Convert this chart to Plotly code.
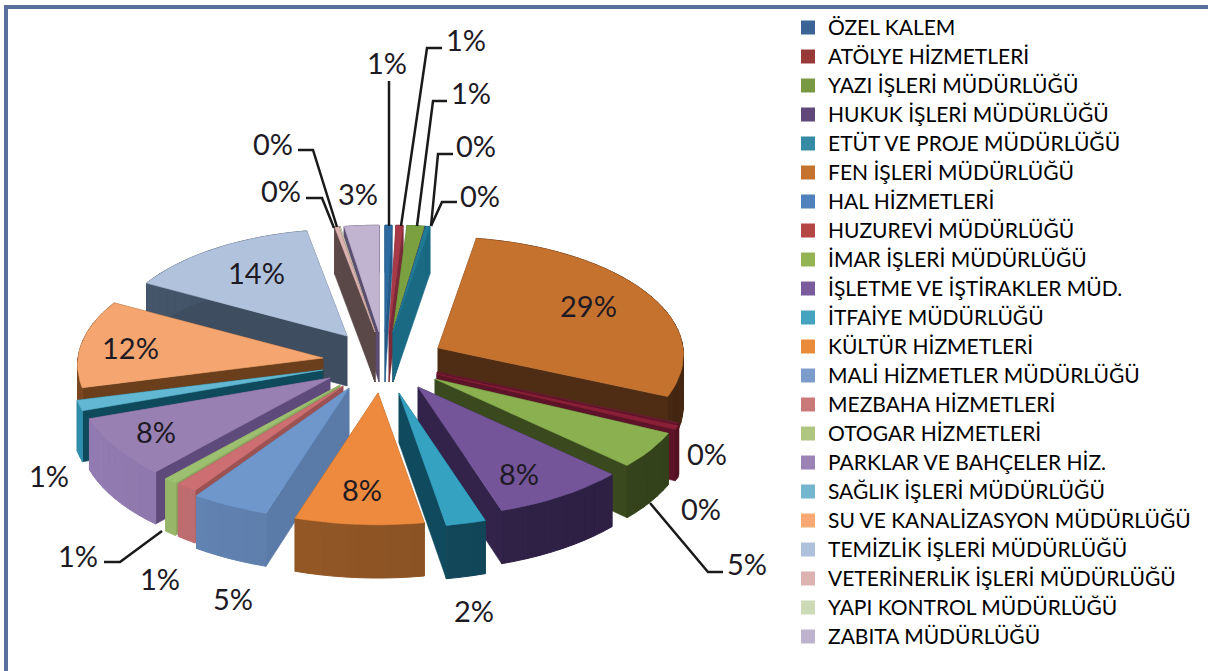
import math
import plotly.graph_objects as go

# ---- data ----
categories = ["ÖZEL KALEM", "ATÖLYE HİZMETLERİ", "YAZI İŞLERİ MÜDÜRLÜĞÜ", "HUKUK İŞLERİ MÜDÜRLÜĞÜ",
              "ETÜT VE PROJE MÜDÜRLÜĞÜ", "FEN İŞLERİ MÜDÜRLÜĞÜ", "HAL HİZMETLERİ", "HUZUREVİ MÜDÜRLÜĞÜ",
              "İMAR İŞLERİ MÜDÜRLÜĞÜ", "İŞLETME VE İŞTİRAKLER MÜD.", "İTFAİYE MÜDÜRLÜĞÜ", "KÜLTÜR HİZMETLERİ",
              "MALİ HİZMETLER MÜDÜRLÜĞÜ", "MEZBAHA HİZMETLERİ", "OTOGAR HİZMETLERİ", "PARKLAR VE BAHÇELER HİZ.",
              "SAĞLIK İŞLERİ MÜDÜRLÜĞÜ", "SU VE KANALİZASYON MÜDÜRLÜĞÜ", "TEMİZLİK İŞLERİ MÜDÜRLÜĞÜ",
              "VETERİNERLİK İŞLERİ MÜDÜRLÜĞÜ", "YAPI KONTROL MÜDÜRLÜĞÜ", "ZABITA MÜDÜRLÜĞÜ"]
values = [0.5, 0.5, 1.3, 0.05, 0.3, 28.95, 0.1, 0.49, 4.81, 8.0, 2.3, 7.6,
          4.6, 1.3, 0.8, 8.0, 1.4, 12.0, 14.1, 0.3, 0.1, 2.5]

# ---- styling ----
legend_colors = ["#3C6496", "#983A38", "#799A42", "#60497A", "#358BA3", "#C6722F", "#4F81BD", "#B44645",
                 "#94B454", "#7A5C9C", "#45A3BF", "#EA8B3C", "#7C9DCB", "#C97A78", "#AEC680", "#9B84B5",
                 "#73B6CE", "#F8A973", "#AFC0DC", "#DDB3B2", "#CCDAB6", "#BDB3CE"]
top_colors = ["#2C6AA0", "#A83A48", "#7BA040", "#60497A", "#1F7A96", "#C6722F", "#6A2030", "#8A2038",
              "#8AB050", "#74559A", "#35A2C2", "#EE8A3D", "#6F97CC", "#CC6E72", "#9CC070", "#9880B3",
              "#62B8D2", "#F5A670", "#B1C2DD", "#DDB3B2", "#CCDAB6", "#C0B4D0"]
wall_colors = ["#245A88", "#7A2A38", "#4E7030", "#4A3860", "#1A6A84", "#4E2D14", "#5E1428", "#5E1428",
               "#3A4A1E", "#33234A", "#0F4A5E", "#8A5522", "#5A7BA8", "#9C5252", "#8CA860", "#5F4A7C",
               "#0F4A5C", "#6B3F1C", "#3E4D60", "#5A4848", "#5A4848", "#5A4E70"]
rim_colors = ["#245A88", "#7A2A38", "#4E7030", "#4A3860", "#1A6A84", "#4E2D14", "#5E1428", "#5E1428",
              "#3A4A1E", "#32234A", "#12495C", "#8E5424", "#5B7AA6", "#B06468", "#8CA860", "#826E9E",
              "#2A7F9A", "#6B3F1C", "#3E4D60", "#5A4848", "#5A4848", "#5A4E70"]

# per-slice explosion: where the slice tip sits on the canvas, and its radius
tip_x = [385, 389, 393, 393, 393, 438, 437, 437, 435, 418, 399, 378, 349, 343, 340, 330, 323, 323, 347, 375, 375, 379]
tip_y = [332, 332, 332, 332, 332, 348, 372, 374, 379, 387, 393, 393, 388, 386, 385, 378, 370, 358, 336, 332, 332, 332]
radius = [.94, .94, .94, .94, .94, .98, 1.03, 1.03, 1.01, 1.02, 1.05, 1.03, 1.03, 1.0, 1.0, 1.0, 1.0, .98, .94, .94, .94, .94]

A, B, PERSP, DEPTH = 250.0, 120.0, 0.06, 50.0

label_x = [387, 466, 471, 476, 480, 588, 707, 701, 747, 519, 474, 362, 233, 160, 78, 156, 49, 130, 256, 273, 281, 358]
label_y = [62, 39, 92, 145, 195, 305, 453, 508, 563, 473, 610, 489, 598, 578, 555, 431, 475, 347, 272, 143, 190, 193]

leaders = [[(389, 81), (389, 226)],
           [(442, 48), (427, 48), (401, 226)],
           [(447, 101), (433, 101), (417, 226)],
           [(453, 154), (438, 154), (431, 226)],
           [(457, 202), (442, 202), (431, 226)],
           [(723, 572), (708, 572), (650, 503)],
           [(104, 562), (120, 562), (162, 531)],
           [(298, 150), (313, 150), (337, 227)],
           [(306, 198), (322, 198), (334, 228)]]


def shade(color, f):
    r, g, b = (int(color[i:i + 2], 16) for i in (1, 3, 5))
    return "#%02X%02X%02X" % tuple(max(0, min(255, round(c * f))) for c in (r, g, b))


def project(i, th):
    X, Y = radius[i] * math.sin(th), radius[i] * math.cos(th)
    s = 1 / (1 + PERSP * Y)
    return tip_x[i] + A * X * s, tip_y[i] - B * Y * s, DEPTH * s


total = sum(values)
spans = []
acc = 0.0
for v in values:
    spans.append((acc / total * 2 * math.pi, (acc + v) / total * 2 * math.pi))
    acc += v

fig = go.Figure()


def poly(xs, ys, color, width=0.6):
    fig.add_trace(go.Scatter(x=xs + xs[:1], y=ys + ys[:1], mode="lines", fill="toself", fillcolor=color,
                             line=dict(color=color, width=width), hoverinfo="skip", showlegend=False))


order = sorted(range(len(values)), key=lambda k: -math.cos(sum(spans[k]) / 2))
for i in order:
    t0, t1 = spans[i]
    tx, ty = tip_x[i], tip_y[i]
    n = max(2, math.ceil((t1 - t0) / math.radians(3)))
    arc = [t0 + (t1 - t0) * k / n for k in range(n + 1)]
    pts = [project(i, t) for t in arc]
    # radial walls
    for p in (pts[0], pts[-1]):
        poly([tx, p[0], p[0], tx], [ty, p[1], p[1] + p[2], ty + DEPTH], wall_colors[i])
    # outer wall in shaded strips, each overlapping the seam of the last
    for k in range(n):
        a, b = pts[k], pts[k + 1]
        mid = (arc[k] + arc[k + 1]) / 2
        poly([a[0], b[0], b[0], a[0]], [a[1], b[1], b[1] + b[2], a[1] + a[2]],
             shade(rim_colors[i], 1 - 0.13 * math.sin(mid)), width=1)
    # top face
    poly([tx] + [p[0] for p in pts], [ty] + [p[1] for p in pts], top_colors[i])

# legend entries
for name, col in zip(categories, legend_colors):
    fig.add_trace(go.Scatter(x=[None], y=[None], mode="markers",
                             name=f'<span style="font-size:21px">{name}</span>',
                             marker=dict(symbol="square", size=14, color=col, line=dict(width=0))))

annotations = [dict(x=x, y=y, text=f"{int(v + 0.5)}%", showarrow=False, xref="x", yref="y",
                    font=dict(family="Lato", size=29, color="#1E1A24"))
               for x, y, v in zip(label_x, label_y, values)]

shapes = [dict(type="path", path="M " + " L ".join(f"{x},{y}" for x, y in seg), xref="x", yref="y",
               line=dict(color="#1A1A1A", width=2.5)) for seg in leaders]
shapes += [dict(type="rect", x0=4, x1=1208, y0=5, y1=9, xref="x", yref="y", fillcolor="#5A6F9C", line=dict(width=0)),
           dict(type="rect", x0=4, x1=8, y0=5, y1=671, xref="x", yref="y", fillcolor="#5A6F9C", line=dict(width=0))]

fig.update_layout(
    width=1208, height=671, margin=dict(l=0, r=0, t=0, b=0),
    paper_bgcolor="white", plot_bgcolor="white",
    xaxis=dict(range=[0, 1208], visible=False, fixedrange=True),
    yaxis=dict(range=[671, 0], visible=False, fixedrange=True),
    legend=dict(x=788 / 1208, xanchor="left", y=1 - 8 / 671, yanchor="top", bgcolor="rgba(0,0,0,0)",
                font=dict(family="Lato", size=20, color="#000000"), traceorder="normal", borderwidth=0),
    annotations=annotations, shapes=shapes, showlegend=True,
)
fig.write_html("out.html", config={"displayModeBar": False},
               post_script="document.body.style.margin='0';document.documentElement.style.overflow='hidden';")
